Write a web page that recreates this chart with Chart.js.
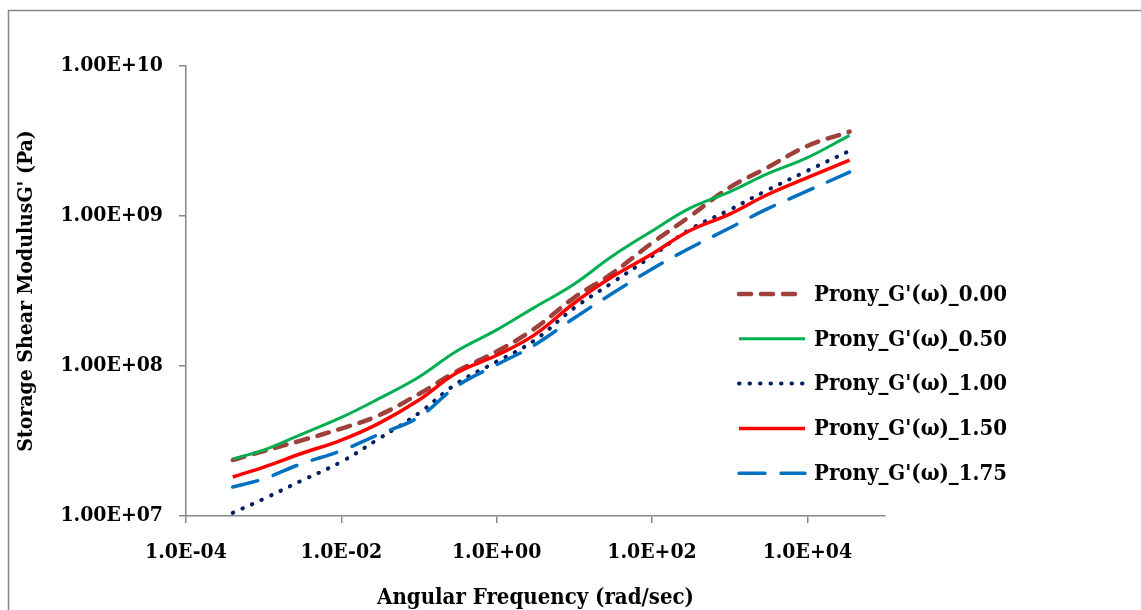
<!DOCTYPE html>
<html>
<head>
<meta charset="utf-8">
<script src="https://cdn.jsdelivr.net/npm/chart.js@4/dist/chart.umd.min.js"></script>
<style>
  body { margin: 0; background: #fff; overflow: hidden; }
  #wrap { width: 1141px; height: 610px; }
</style>
</head>
<body>
<div id="wrap"><canvas id="chart" width="1141" height="610"></canvas></div>
<script>
// frequency points (rad/sec)
const freq = [4e-4, 1e-3, 3e-3, 1e-2, 3e-2, 1e-1, 3e-1, 1, 3, 10, 30, 100, 300, 1000, 3000, 1e4, 3.5e4];

// storage modulus G' (Pa)
const g000 = [2.36e7, 2.71e7, 3.18e7, 3.83e7, 4.68e7, 6.51e7, 9.16e7, 1.25e8, 1.76e8, 2.86e8, 4.11e8, 6.61e8, 9.85e8, 1.55e9, 2.09e9, 2.93e9, 3.65e9];
const g050 = [2.40e7, 2.75e7, 3.49e7, 4.54e7, 6.03e7, 8.45e7, 1.25e8, 1.74e8, 2.44e8, 3.52e8, 5.35e8, 7.94e8, 1.12e9, 1.45e9, 1.90e9, 2.45e9, 3.45e9];
const g100 = [1.05e7, 1.30e7, 1.71e7, 2.30e7, 3.26e7, 4.86e7, 7.59e7, 1.07e8, 1.47e8, 2.44e8, 3.56e8, 5.41e8, 8.07e8, 1.10e9, 1.48e9, 2.00e9, 2.72e9];
const g150 = [1.82e7, 2.12e7, 2.60e7, 3.21e7, 4.13e7, 5.93e7, 8.94e7, 1.18e8, 1.60e8, 2.63e8, 3.90e8, 5.58e8, 7.94e8, 1.03e9, 1.38e9, 1.80e9, 2.36e9];
const g175 = [1.56e7, 1.77e7, 2.22e7, 2.73e7, 3.49e7, 4.57e7, 7.28e7, 1.02e8, 1.37e8, 2.09e8, 3.02e8, 4.43e8, 6.07e8, 8.32e8, 1.11e9, 1.47e9, 1.96e9];

const seriesNames = ["Prony_G'(ω)_0.00", "Prony_G'(ω)_0.50", "Prony_G'(ω)_1.00", "Prony_G'(ω)_1.50", "Prony_G'(ω)_1.75"];

const xTickValues = [1e-4, 1e-2, 1, 1e2, 1e4];
const xTickLabels = ['1.0E-04', '1.0E-02', '1.0E+00', '1.0E+02', '1.0E+04'];
const yTickValues = [1e7, 1e8, 1e9, 1e10];
const yTickLabels = ['1.00E+07', '1.00E+08', '1.00E+09', '1.00E+10'];

const FONT = "'DejaVu Serif Condensed', 'DejaVu Serif', serif";
const AXIS_GREY = '#878787';

function pts(ys) {
    return freq.map((f, i) => ({ x: f, y: ys[i] }));
}

// chart frame: only its top and left edges fall inside the picture
const framePlugin = {
    id: 'frame',
    beforeDraw(chart) {
        const ctx = chart.ctx;
        ctx.save();
        ctx.fillStyle = '#fff';
        ctx.fillRect(0, 0, chart.width, chart.height);
        ctx.strokeStyle = AXIS_GREY;
        ctx.lineWidth = 1.5;
        ctx.beginPath();
        ctx.moveTo(8.5, chart.height);
        ctx.lineTo(8.5, 10.5);
        ctx.lineTo(chart.width, 10.5);
        ctx.stroke();
        ctx.restore();
    }
};

// legend drawn over the right part of the plot, like the original
const sideLegend = {
    id: 'sideLegend',
    afterDatasetsDraw(chart) {
        const ctx = chart.ctx;
        chart.data.datasets.forEach((ds, i) => {
            const y = 294 + i * 44.8;
            ctx.save();
            ctx.strokeStyle = ds.borderColor;
            ctx.lineWidth = ds.borderWidth;
            ctx.lineCap = ds.borderCapStyle || 'butt';
            ctx.setLineDash(ds.borderDash || []);
            ctx.beginPath();
            ctx.moveTo(739, y);
            ctx.lineTo(805, y);
            ctx.stroke();
            ctx.setLineDash([]);
            ctx.fillStyle = '#000';
            ctx.font = 'bold 22px ' + FONT;
            ctx.textBaseline = 'middle';
            ctx.fillText(ds.label, 814, y + 1);
            ctx.restore();
        });
    }
};

new Chart(document.getElementById('chart'), {
    type: 'line',
    data: {
        datasets: [
            { label: seriesNames[0], data: pts(g000), borderColor: '#9E413B', borderWidth: 4.5, borderDash: [12, 10], borderCapStyle: 'round', order: 5 },
            { label: seriesNames[1], data: pts(g050), borderColor: '#00B050', borderWidth: 3, order: 4 },
            { label: seriesNames[2], data: pts(g100), borderColor: '#002060', borderWidth: 4, borderDash: [0.5, 10], borderCapStyle: 'round', order: 3 },
            { label: seriesNames[3], data: pts(g150), borderColor: '#FF0000', borderWidth: 3.5, order: 2 },
            { label: seriesNames[4], data: pts(g175), borderColor: '#0070C0', borderWidth: 3.5, borderDash: [26, 16], borderCapStyle: 'round', order: 1 }
        ]
    },
    options: {
        responsive: false,
        animation: false,
        layout: { padding: { left: 0, top: 66, right: 256, bottom: 0 } },
        elements: {
            point: { radius: 0 },
            line: { tension: 0.4, fill: false }
        },
        plugins: {
            legend: { display: false },
            tooltip: { enabled: false }
        },
        scales: {
            x: {
                type: 'logarithmic',
                min: 1e-4,
                max: 1e5,
                afterBuildTicks: s => { s.ticks = xTickValues.map(v => ({ value: v })); },
                afterFit: s => { s.height = 94; },
                ticks: {
                    autoSkip: false,
                    maxRotation: 0,
                    padding: 17,
                    color: '#000',
                    font: { family: FONT, size: 21, weight: 'bold' },
                    callback: (v, i) => xTickLabels[i]
                },
                grid: { drawOnChartArea: false, drawTicks: true, tickLength: 7, color: AXIS_GREY, lineWidth: 1.5 },
                border: { color: AXIS_GREY, width: 1.5 },
                title: {
                    display: true,
                    text: 'Angular Frequency (rad/sec)',
                    color: '#000',
                    font: { family: FONT, size: 22, weight: 'bold' },
                    padding: { top: 0, bottom: -1 }
                }
            },
            y: {
                type: 'logarithmic',
                min: 1e7,
                max: 1e10,
                afterBuildTicks: s => { s.ticks = yTickValues.map(v => ({ value: v })); },
                afterFit: s => { s.width = 186; },
                ticks: {
                    autoSkip: false,
                    padding: 16,
                    color: '#000',
                    font: { family: FONT, size: 21, weight: 'bold' },
                    callback: (v, i) => yTickLabels[i]
                },
                grid: { drawOnChartArea: false, drawTicks: true, tickLength: 7, color: AXIS_GREY, lineWidth: 1.5 },
                border: { color: AXIS_GREY, width: 1.5 },
                title: {
                    display: true,
                    text: "Storage Shear ModulusG' (Pa)",
                    color: '#000',
                    font: { family: FONT, size: 21, weight: 'bold' },
                    padding: { top: 14, bottom: 0 }
                }
            }
        }
    },
    plugins: [framePlugin, sideLegend]
});
</script>
</body>
</html>
